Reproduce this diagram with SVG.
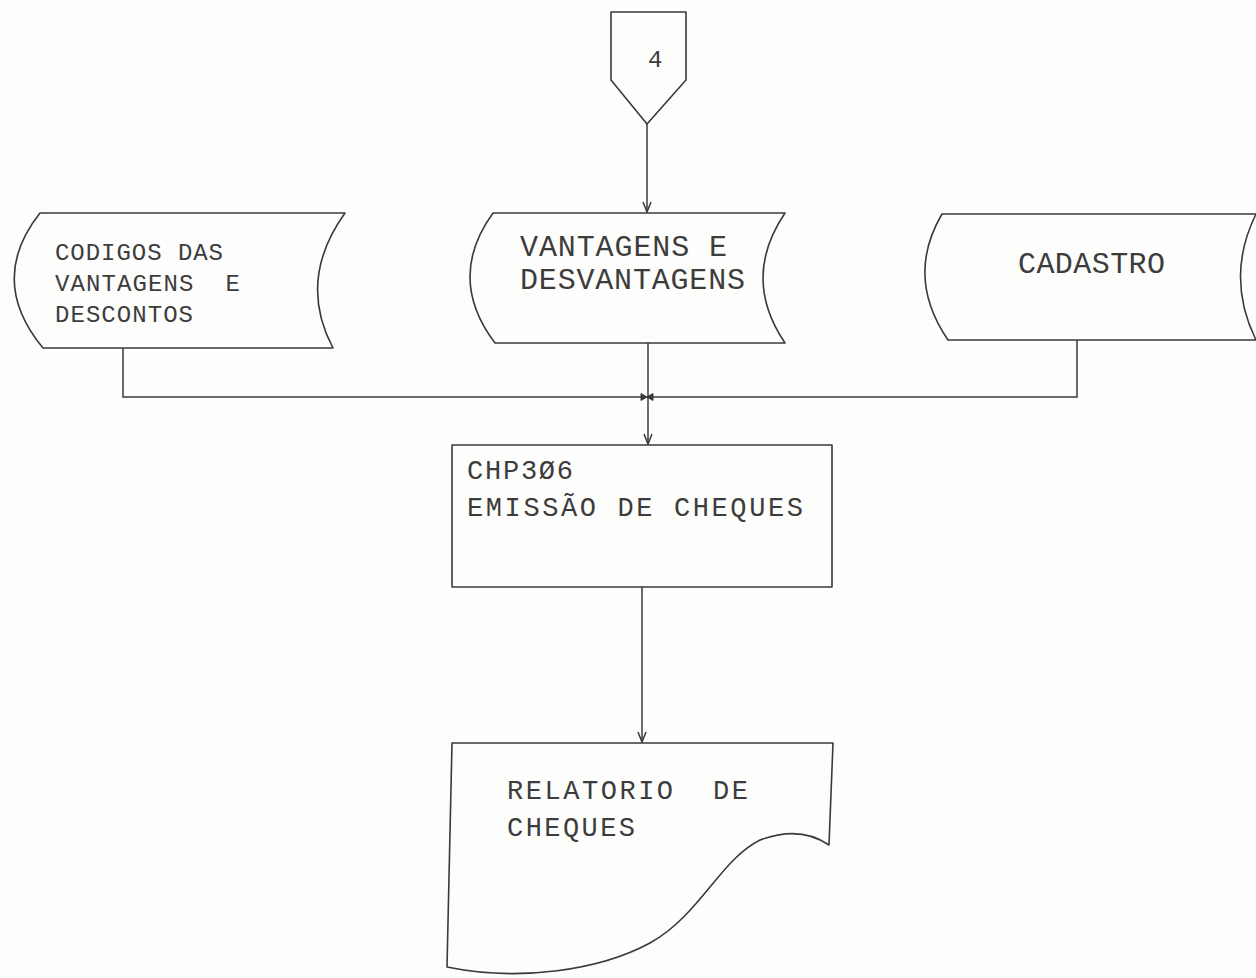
<svg xmlns="http://www.w3.org/2000/svg" width="1256" height="978" viewBox="0 0 1256 978">
<defs>
<style>
.shape{fill:none;stroke:#3a3a3a;stroke-width:1.6;stroke-linejoin:round}
.conn{fill:none;stroke:#3a3a3a;stroke-width:1.5}
.t{font-family:"Liberation Mono","DejaVu Sans Mono",monospace;fill:#3c3c3c;white-space:pre}
.s24{font-size:24px}
.s27{font-size:27px}
.s30{font-size:30px}
</style>
<marker id="arr" viewBox="0 0 12 10" refX="11" refY="5" markerWidth="12" markerHeight="10" markerUnits="userSpaceOnUse" orient="auto">
<path d="M1,1 L11,5 L1,9" fill="none" stroke="#3a3a3a" stroke-width="1.5"/>
</marker>
</defs>
<rect width="1256" height="978" fill="#fdfdfb"/>

<g id="offpage4">
<path class="shape" d="M611,12 L686,12 L686,80 L647,124 L611,80 Z"/>
<text class="t" x="648" y="67" style="font-size:24px">4</text>
</g>

<g id="codigos">
<path class="shape" d="M40,213 L345,213 Q297,280 333,348 L43,348 Q-13,280 40,213 Z"/>
<text class="t s24" x="55" y="260" textLength="168" lengthAdjust="spacing">CODIGOS DAS</text>
<text class="t s24" x="55" y="291" textLength="185" lengthAdjust="spacing">VANTAGENS  E</text>
<text class="t s24" x="55" y="322" textLength="138" lengthAdjust="spacing">DESCONTOS</text>
</g>

<g id="vantagens">
<path class="shape" d="M493,213 L785,213 Q741,278 785,343 L495,343 Q446,278 493,213 Z"/>
<text class="t s30" x="520" y="256" textLength="207" lengthAdjust="spacing">VANTAGENS E</text>
<text class="t s30" x="520" y="289" textLength="225" lengthAdjust="spacing">DESVANTAGENS</text>
</g>

<g id="cadastro">
<path class="shape" d="M942,214 L1256,214 Q1225,277 1256,340 L948,340 Q905,277 942,214 Z"/>
<text class="t s30" x="1018" y="273" textLength="147" lengthAdjust="spacing">CADASTRO</text>
</g>

<g id="chp306">
<rect class="shape" x="452" y="445" width="380" height="142"/>
<text class="t s27" x="467" y="479" textLength="106" lengthAdjust="spacing">CHP3Ø6</text>
<text class="t s27" x="467" y="516" textLength="336" lengthAdjust="spacing">EMISSÃO DE CHEQUES</text>
</g>

<g id="relatorio">
<path class="shape" d="M452,743 L833,743 L829,845 Q800,825 760,840 C720,860 700,915 650,943 C600,970 520,982 447,967 Z"/>
<text class="t s27" x="507" y="799" textLength="241" lengthAdjust="spacing">RELATORIO  DE</text>
<text class="t s27" x="507" y="836" textLength="128" lengthAdjust="spacing">CHEQUES</text>
</g>

<g id="connectors">
<path class="conn" d="M647,124 L647,212" marker-end="url(#arr)"/>
<path class="conn" d="M123,348 L123,397 L1077,397 L1077,340"/>
<path class="conn" d="M648,343 L648,444" marker-end="url(#arr)"/>
<path d="M641,393.5 L647,397 L641,400.5 Z M653,393.5 L647,397 L653,400.5 Z" fill="#3a3a3a" stroke="#3a3a3a" stroke-width="1"/>
<path class="conn" d="M642,587 L642,742" marker-end="url(#arr)"/>
</g>
</svg>
